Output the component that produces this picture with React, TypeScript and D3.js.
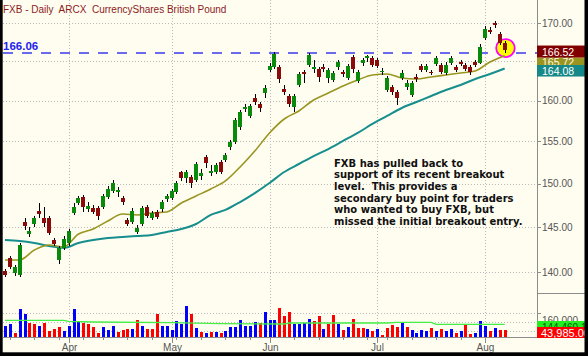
import React, { useEffect } from "react";
import * as d3 from "d3";

const W = 588;
const H = 356;

// trading days, 2009
const marDays = [13, 16, 17, 18, 19, 20, 23, 24, 25, 26, 27, 30, 31];
const aprDays = [1, 2, 3, 6, 7, 8, 9, 13, 14, 15, 16, 17, 20, 21, 22, 23, 24, 27, 28, 29, 30];
const mayDays = [1, 4, 5, 6, 7, 8, 11, 12, 13, 14, 15, 18, 19, 20, 21, 22, 26, 27, 28, 29];
const junDays = [1, 2, 3, 4, 5, 8, 9, 10, 11, 12, 15, 16, 17, 18, 19, 22, 23, 24, 25, 26, 29, 30];
const julDays = [1, 2, 6, 7, 8, 9, 10, 13, 14, 15, 16, 17, 20, 21, 22, 23, 24, 27, 28, 29, 30, 31];
const augDays = [3, 4, 5, 6, 7];
const monthNames = ["Mar", "Apr", "May", "Jun", "Jul", "Aug"];

const opens = [
  140.11, 141.54, 139.89, 139.67, 145.57, 144.21, 145.34, 146.82, 146.02, 146.02,
  143.54, 141.32, 142.65, 143.2, 146.59, 147.74, 148.43, 147.05, 147.16, 147.16,
  147.28, 148.43, 149.13, 149.01, 148.32, 145.79, 145.57, 144.44, 145.34, 147.28,
  146.02, 146.71, 147.05, 148.2, 148.32, 149.01, 151.35, 150.65, 150.77, 150.41,
  150.89, 153.13, 151.24, 151.35, 152.54, 152.78, 154.33, 154.94, 156.76, 158.97,
  158.11, 160.34, 159.59, 160.97, 163.88, 164.27, 164.27, 161.47, 160.59, 159.22,
  161.98, 163.63, 164.52, 164.01, 164.01, 164.27, 162.87, 162.61, 164.27, 163.63,
  162.87, 165.55, 162.48, 164.78, 165.42, 165.42, 165.17, 163.63, 161.35, 161.72,
  161.1, 162.87, 161.72, 160.72, 163.0, 164.4, 163.88, 163.63, 164.65, 164.52,
  163.5, 164.78, 164.27, 164.91, 164.52, 164.27, 164.91, 164.78, 168.02, 169.07,
  170.0, 168.55, 167.37,
];
const highs = [
  140.33, 141.76, 140.77, 143.2, 146.02, 145.0, 146.25, 147.74, 147.28, 146.25,
  143.76, 142.87, 143.99, 144.77, 147.74, 148.55, 148.66, 147.85, 147.51, 147.39,
  148.78, 149.71, 150.41, 149.59, 148.55, 146.02, 147.16, 145.23, 147.39, 147.51,
  146.82, 146.94, 148.09, 148.78, 149.36, 150.3, 151.47, 151.59, 151.0, 152.54,
  151.71, 153.37, 152.18, 152.42, 152.78, 153.61, 155.18, 157.86, 158.85, 159.59,
  159.59, 160.85, 159.85, 161.98, 164.78, 166.2, 164.52, 161.98, 160.85, 160.85,
  163.63, 163.88, 166.07, 165.17, 164.27, 164.65, 164.14, 163.76, 165.17, 163.88,
  164.65, 165.81, 163.88, 165.42, 165.81, 165.68, 165.42, 164.14, 163.12, 161.98,
  161.35, 163.88, 162.61, 162.48, 163.37, 164.65, 164.65, 163.88, 165.68, 164.78,
  164.91, 165.68, 164.52, 165.17, 164.78, 164.52, 165.17, 167.24, 169.6, 169.47,
  170.27, 168.81, 167.63,
];
const lows = [
  139.46, 140.33, 139.57, 139.46, 144.66, 143.88, 145.0, 146.02, 145.0, 144.1,
  142.87, 140.88, 142.42, 142.87, 146.37, 147.51, 146.71, 146.71, 146.48, 145.79,
  147.05, 148.2, 148.89, 148.43, 147.51, 145.11, 145.34, 144.21, 145.11, 146.02,
  145.79, 145.91, 146.71, 147.85, 148.09, 148.78, 150.3, 150.06, 149.48, 150.18,
  150.41, 151.83, 150.89, 151.12, 151.12, 152.54, 153.97, 154.69, 156.39, 158.6,
  157.86, 159.47, 158.6, 160.34, 163.63, 164.01, 162.23, 160.72, 159.22, 158.6,
  161.72, 162.23, 164.27, 163.5, 162.36, 163.63, 162.23, 162.36, 163.88, 163.0,
  162.61, 163.5, 162.23, 164.4, 164.91, 164.27, 164.14, 163.24, 161.1, 160.72,
  159.47, 162.61, 161.35, 160.47, 162.36, 163.63, 163.63, 163.24, 164.4, 163.37,
  163.24, 164.52, 163.63, 164.4, 163.76, 163.24, 164.27, 164.65, 167.76, 168.55,
  169.34, 167.11, 166.07,
];
const closes = [
  139.67, 140.55, 140.55, 142.98, 145.11, 144.55, 146.02, 146.48, 145.45, 144.33,
  143.09, 142.65, 143.65, 144.55, 147.28, 148.32, 147.28, 147.39, 146.71, 146.25,
  148.55, 149.36, 150.06, 149.24, 147.85, 145.34, 146.82, 144.89, 147.16, 146.25,
  146.59, 146.14, 147.85, 148.55, 149.13, 150.06, 150.65, 151.35, 150.06, 152.3,
  151.24, 152.42, 151.47, 152.18, 151.35, 153.37, 154.94, 157.62, 158.6, 159.22,
  159.35, 159.85, 159.1, 161.6, 164.4, 165.94, 162.74, 161.1, 159.59, 160.59,
  163.37, 163.37, 165.81, 164.27, 163.0, 164.01, 163.88, 163.5, 164.91, 163.37,
  164.4, 164.01, 163.63, 165.17, 165.68, 164.52, 164.4, 163.76, 162.87, 161.1,
  160.34, 163.5, 162.23, 162.23, 162.74, 163.88, 164.4, 163.5, 165.42, 163.63,
  164.52, 165.42, 163.88, 164.65, 164.01, 163.63, 164.52, 166.85, 169.2, 168.81,
  169.73, 167.37, 166.52,
];
const volumes = [
  71100, 88900, 28900, 188900, 155600, 95600, 88900, 73300, 95600, 37800,
  51100, 66700, 40000, 73300, 188900, 100000, 95600, 88900, 66700, 28900,
  66700, 44400, 71100, 33300, 44400, 51100, 51100, 111100, 73300, 51100,
  55600, 155600, 71100, 71100, 44400, 104400, 88900, 204400, 151100, 62200,
  33300, 28900, 33300, 33300, 28900, 40000, 66700, 66700, 111100, 73300,
  73300, 100000, 93300, 166700, 111100, 111100, 195600, 140000, 166700, 88900,
  88900, 93300, 117800, 106700, 140000, 51100, 88900, 144400, 88900, 44400,
  66700, 117800, 62200, 62200, 55600, 40000, 51100, 15600, 62200, 77800,
  66700, 95600, 66700, 48900, 28900, 48900, 40000, 62200, 40000, 55600,
  40000, 55600, 26700, 37800, 77800, 17800, 28900, 106700, 71100, 40000,
  60000, 44400, 43985,
];
const volDirection = (
  "uuduuddudd" + "dduuuudddd" + "uuudddudud" + "dduuuuuudu" + "dududuuuuu" +
  "uuduuudddu" + "uuudduddud" + "udddududdd" + "duduuuudud" + "uududduuud" + "udd"
).split("");

// moving averages, read at every third bar
const maIdx = [0, 3, 6, 9, 12, 15, 18, 21, 24, 27, 30, 33, 36, 39, 42, 45, 48, 51, 54, 57,
  60, 63, 66, 69, 72, 75, 78, 81, 84, 87, 90, 93, 96, 99, 102];
const ma20 = [141.32, 141.32, 142.42, 142.98, 142.76, 144.21, 144.77, 145.68, 146.48, 146.37,
  146.59, 146.71, 147.74, 148.55, 149.36, 150.3, 151.95, 153.85, 156.03, 157.74,
  158.73, 160.09, 160.97, 161.85, 162.61, 163.25, 163.37, 162.87, 162.74, 163.0,
  163.25, 163.5, 163.76, 164.91, 165.72];
const ma50 = [143.54, 143.43, 143.2, 142.87, 142.65, 143.2, 143.54, 143.76, 143.88, 143.99,
  144.1, 144.44, 144.77, 145.34, 146.37, 146.94, 147.85, 148.89, 150.06, 151.35,
  152.3, 153.25, 154.09, 155.06, 156.03, 157.13, 158.11, 159.1, 159.85, 160.59,
  161.35, 161.98, 162.74, 163.37, 164.08];
const volMaIdx = [0, 12, 13, 18, 34, 44, 57, 58, 78, 80, 87, 88, 102];
const volMa = [111100, 111100, 104400, 100000, 95600, 88900, 86700, 93300, 93300, 97800, 97800, 84400, 84400];

const priceTicks = [140, 145, 150, 155, 160, 165, 170];
const volGrid = [40000, 100000, 160000];
const volTickLabel = "160,000";
const volMaLabel = "144,460.10";
const lastVolLabel = "43,985.00";
const breakoutLevel = 166.06;
const title = "FXB - Daily  ARCX  CurrencyShares British Pound";
const note = [
  "FXB has pulled back to",
  "support of its recent breakout",
  "level.  This provides a",
  "secondary buy point for traders",
  "who wanted to buy FXB, but",
  "missed the initial breakout entry.",
];

const dates: Date[] = [];
[marDays, aprDays, mayDays, junDays, julDays, augDays].forEach((days, m) =>
  days.forEach((d) => dates.push(new Date(2009, m + 2, d)))
);

const SANS = "'Liberation Sans', Arial, sans-serif";

export default function App() {
  useEffect(() => {
    document.body.style.margin = "0";
  }, []);

  const xS = d3.scaleLinear().domain([-0.4, 108.6]).range([3, 537]);
  const yP = d3.scaleLog().domain([140, 170]).range([272, 23]);
  const yV = d3.scaleLinear().domain([0, 160000]).range([337, 313]);

  const cx = (i: number) => Math.round(xS(i));

  const monthStarts: number[] = [];
  const weekStarts: number[] = [];
  dates.forEach((d, i) => {
    if (i > 0 && d.getMonth() !== dates[i - 1].getMonth()) monthStarts.push(i);
    if (i > 0 && d.getDay() <= dates[i - 1].getDay()) weekStarts.push(i);
  });

  const lineP = d3
    .line<number>()
    .x((_, k) => xS(maIdx[k]))
    .y((v) => yP(v))
    .curve(d3.curveMonotoneX);
  const lineV = d3
    .line<number>()
    .x((_, k) => xS(volMaIdx[k]))
    .y((v) => yV(v));

  const last = closes.length - 1;
  const lastX = xS(last);
  const boxTop = yP(closes[last]) - 4;

  return (
    <svg
      width={W}
      height={H}
      style={{ position: "absolute", left: 0, top: 0, display: "block" }}
    >
      <defs>
        <clipPath id="plot">
          <rect x={3} y={0} width={534} height={337} />
        </clipPath>
        <clipPath id="axis">
          <rect x={537} y={0} width={48} height={352} />
        </clipPath>
      </defs>
      <rect x={0} y={0} width={W} height={H} fill="#fffdf0" />

      {/* grid */}
      <g stroke="#b8b8b8" strokeDasharray="1 2" shapeRendering="crispEdges">
        {priceTicks.map((t) => (
          <line key={"g" + t} x1={3} x2={537} y1={Math.round(yP(t)) + 0.5} y2={Math.round(yP(t)) + 0.5} />
        ))}
        {volGrid.map((t) => (
          <line key={"v" + t} x1={3} x2={537} y1={Math.round(yV(t)) + 0.5} y2={Math.round(yV(t)) + 0.5} />
        ))}
        {monthStarts.map((i) => (
          <line key={"m" + i} x1={cx(i) + 0.5} x2={cx(i) + 0.5} y1={0} y2={337} />
        ))}
      </g>

      {/* breakout level */}
      <line
        x1={3}
        x2={537}
        y1={yP(breakoutLevel)}
        y2={yP(breakoutLevel)}
        stroke="#3a3aee"
        strokeWidth={1.6}
        strokeDasharray="10 9"
      />
      <text
        x={3}
        y={yP(breakoutLevel) - 3.5}
        fontFamily={SANS}
        fontWeight="bold"
        fontSize={11.5}
        fill="#2222ee"
      >
        {breakoutLevel.toFixed(2)}
      </text>

      {/* highlight */}
      <ellipse
        cx={lastX + 0.8}
        cy={yP(closes[last]) - 1.5}
        rx={9.3}
        ry={9}
        fill="#ffff00"
        stroke="#ff00ff"
        strokeWidth={1.8}
      />

      <g clipPath="url(#plot)">
        {/* moving averages */}
        <path d={lineP(ma50) || ""} fill="none" stroke="#168e8e" strokeWidth={2} />
        <path d={lineP(ma20) || ""} fill="none" stroke="#9a9520" strokeWidth={1.6} />

        {/* candles */}
        <g shapeRendering="crispEdges">
          {opens.map((o, i) => {
            const c = closes[i];
            const x = cx(i);
            const top = yP(Math.max(o, c));
            const bot = yP(Math.min(o, c));
            return (
              <g key={"c" + i}>
                <line x1={x + 0.5} x2={x + 0.5} y1={yP(highs[i])} y2={yP(lows[i])} stroke="#000" strokeWidth={1} />
                <rect
                  x={x - 2}
                  y={top}
                  width={4}
                  height={Math.max(1.5, bot - top)}
                  fill={c >= o ? "#0a8a0a" : "#8b0a0a"}
                />
              </g>
            );
          })}
        </g>

        {/* volume */}
        <g shapeRendering="crispEdges">
          {volumes.map((v, i) => (
            <rect
              key={"v" + i}
              x={cx(i) - 1}
              y={yV(v)}
              width={3}
              height={337 - yV(v)}
              fill={volDirection[i] === "u" ? "#0000ff" : "#ff0000"}
            />
          ))}
        </g>
        <path d={lineV(volMa) || ""} fill="none" stroke="#44ee44" strokeWidth={1.3} />
      </g>

      {/* axes */}
      <g stroke="#8c8c8c" shapeRendering="crispEdges">
        <line x1={537.5} x2={537.5} y1={0} y2={337} strokeWidth={1.5} />
        <line x1={3} x2={537} y1={337.5} y2={337.5} />
        <line x1={537} x2={585} y1={293.5} y2={293.5} />
        {priceTicks.map((t) => (
          <line key={"t" + t} x1={537} x2={541} y1={Math.round(yP(t)) + 0.5} y2={Math.round(yP(t)) + 0.5} />
        ))}
        <line x1={537} x2={541} y1={Math.round(yV(160000)) + 0.5} y2={Math.round(yV(160000)) + 0.5} />
        {weekStarts.map((i) => (
          <line key={"w" + i} x1={cx(i) + 0.5} x2={cx(i) + 0.5} y1={337} y2={340} />
        ))}
        {monthStarts.map((i) => (
          <line key={"mt" + i} x1={cx(i) + 0.5} x2={cx(i) + 0.5} y1={337} y2={343} />
        ))}
      </g>
      <g fontFamily={SANS} fontSize={10} fill="#555">
        {priceTicks.map((t) => (
          <text key={"l" + t} x={542} y={yP(t) + 3.6}>
            {t.toFixed(2)}
          </text>
        ))}
        {monthStarts.map((i) => (
          <text key={"ml" + i} x={cx(i) + 0.5} y={351} textAnchor="middle">
            {monthNames[dates[i].getMonth() - 2]}
          </text>
        ))}
      </g>

      {/* value boxes */}
      <g clipPath="url(#axis)" fontFamily={SANS} fontSize={10.5}>
        <rect x={537} y={boxTop + 12} width={48} height={12} fill="#9a9520" />
        <text x={542} y={boxTop + 12 + 8.5} fill="#fffbe0">{ma20[ma20.length - 1].toFixed(2)}</text>
        <rect x={537} y={boxTop} width={48} height={12} fill="#800000" />
        <text x={542} y={boxTop + 10} fill="#ffffff">{closes[last].toFixed(2)}</text>
        <rect x={537} y={boxTop + 19.5} width={48} height={11.5} fill="#158888" />
        <text x={542} y={boxTop + 29} fill="#ffffff">{ma50[ma50.length - 1].toFixed(2)}</text>

        <text x={542} y={yV(160000) + 10.5} fill="#555" fontSize={10}>{volTickLabel}</text>
        <rect x={537} y={321} width={48} height={12} fill="#22ee22" />
        <text x={542} y={331} fill="#0a5a0a" fontSize={10}>{volMaLabel}</text>
        <rect x={537} y={327} width={48} height={11} fill="#ff0000" />
        <text x={541} y={336.5} fill="#ffffff" fontSize={11}>{lastVolLabel}</text>
      </g>

      {/* note */}
      <g fontFamily="'DejaVu Sans', Verdana, sans-serif" fontWeight="bold" fontSize={10} fill="#111">
        {note.map((s, k) => (
          <text key={"n" + k} x={334} y={166.5 + k * 11.7} style={{ whiteSpace: "pre" }}>
            {s}
          </text>
        ))}
      </g>

      {/* title */}
      <text x={3} y={12.5} fontFamily={SANS} fontSize={10} fill="#8b1c1c" style={{ whiteSpace: "pre" }}>
        {title}
      </text>

      {/* frame */}
      <rect x={0} y={0} width={2.7} height={H} fill="#000" />
      <rect x={584.5} y={0} width={3.5} height={H} fill="#000" />
      <rect x={0} y={352.3} width={W} height={3.7} fill="#000" />
    </svg>
  );
}
